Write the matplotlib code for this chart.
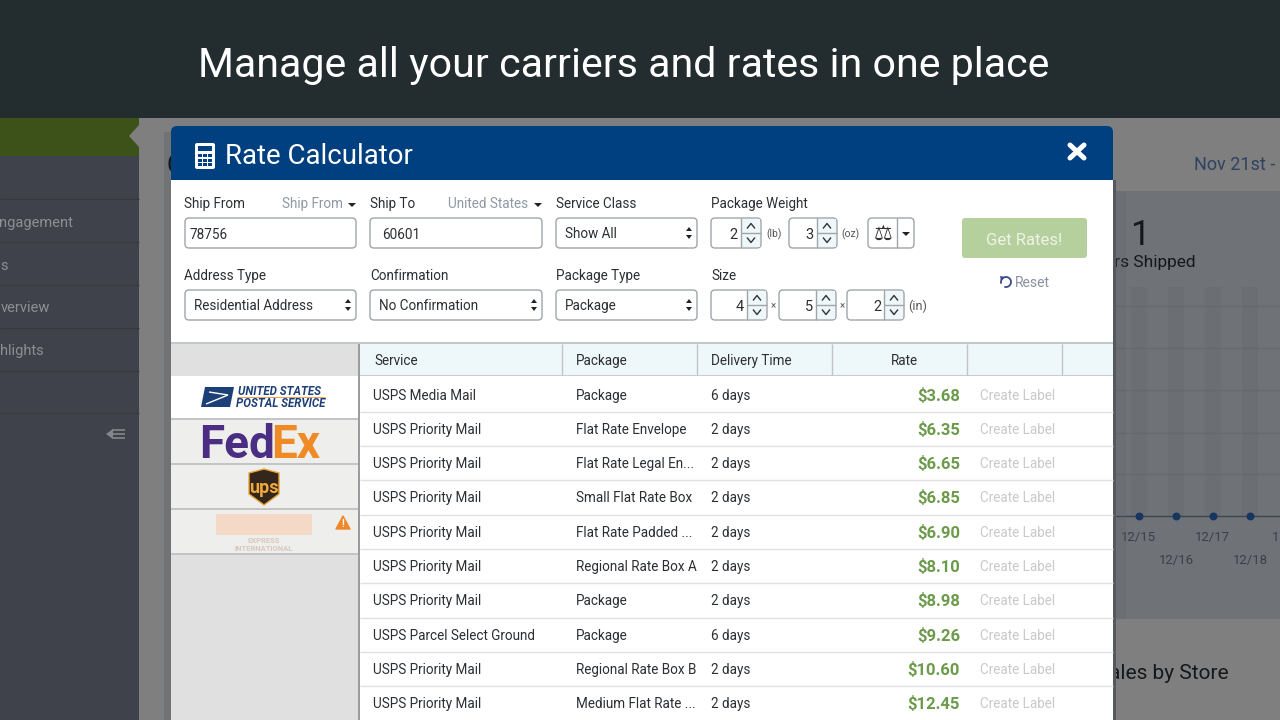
import matplotlib
matplotlib.use("Agg")
import matplotlib.pyplot as plt
from matplotlib.patches import Rectangle, FancyBboxPatch, Polygon, Arc

# -----------------------------
# Table data
# -----------------------------

services = ["USPS Media Mail", "USPS Priority Mail", "USPS Priority Mail", "USPS Priority Mail",
            "USPS Priority Mail", "USPS Priority Mail", "USPS Priority Mail",
            "USPS Parcel Select Ground", "USPS Priority Mail", "USPS Priority Mail"]
packages = ["Package", "Flat Rate Envelope", "Flat Rate Legal En...", "Small Flat Rate Box",
            "Flat Rate Padded ...", "Regional Rate Box A", "Package", "Package",
            "Regional Rate Box B", "Medium Flat Rate ..."]
delivery = ["6 days", "2 days", "2 days", "2 days", "2 days", "2 days", "2 days", "6 days",
            "2 days", "2 days"]
rates = ["$3.68", "$6.35", "$6.65", "$6.85", "$6.90", "$8.10", "$8.98", "$9.26", "$10.60", "$12.45"]
row_y = [395, 429, 463, 497, 532, 566, 600, 635, 669, 703]
header_labels = ["Service", "Package", "Delivery Time", "Rate"]

sidebar_items = ["ngagement", "s", "verview", "hlights"]
sidebar_right = [73, 8, 50, 44]
sidebar_y = [222, 265, 307, 350]
sidebar_lines = [199, 242, 285, 328, 371, 413]

chart_dates_top = ["12/15", "12/17"]
chart_dates_top_x = [1139, 1213]
chart_dates_low = ["12/16", "12/18"]
chart_dates_low_x = [1176, 1250]
chart_points_x = [1139, 1176, 1213, 1250]
chart_grid_y = [306, 348, 390, 433, 474]

FONT = "Roboto"
EDGE = "#a0a5aa"
TEXT = "#2b2f33"
BTN = "#eef7fa"
BODY = 9.75

plt.rcParams["font.family"] = [FONT, "DejaVu Sans"]
plt.rcParams["lines.solid_capstyle"] = "butt"

fig = plt.figure(figsize=(12.8, 7.2), dpi=100)
ax = fig.add_axes([0, 0, 1, 1])
ax.set_xlim(0, 1280)
ax.set_ylim(720, 0)
ax.axis("off")


def rect(x0, y0, x1, y1, color, z=1, alpha=None):
    ax.add_patch(Rectangle((x0, y0), x1 - x0, y1 - y0, fc=color, ec="none", zorder=z, alpha=alpha))


def rbox(x0, y0, x1, y1, fc="white", ec=EDGE, z=3, r=4, lw=1.0):
    ax.add_patch(FancyBboxPatch((x0, y0), x1 - x0, y1 - y0,
                                boxstyle=f"round,pad=0,rounding_size={r}",
                                fc=fc, ec=ec, lw=lw, zorder=z))


def label(x, y, s, size=BODY, color=TEXT, ha="left", weight="normal", z=5, **kw):
    # y is the middle of the capitals, so rows with descenders stay on one baseline
    ax.text(x, y + 0.49 * size, s, fontsize=size, color=color, ha=ha, va="baseline",
            weight=weight, zorder=z, **kw)


def updown(x, y):
    ax.add_patch(Polygon([(x - 3, y - 2), (x + 3, y - 2), (x, y - 6)], fc="#222", zorder=5))
    ax.add_patch(Polygon([(x - 3, y + 2), (x + 3, y + 2), (x, y + 6)], fc="#222", zorder=5))


def select(x0, x1, y0, s):
    rbox(x0, y0, x1, y0 + 30)
    label(x0 + 9, y0 + 15.5, s)
    updown(x1 - 8, y0 + 15)


def chevron(x, y, up):
    d = -2.5 if up else 2.5
    ax.plot([x - 4, x, x + 4], [y - d, y + d, y - d], color="#333", lw=1, zorder=6)


def spinner(x0, x1, y0, val):
    bx = x1 - 20
    rbox(x0, y0, x1, y0 + 30)
    rect(bx, y0 + 1, x1 - 1, y0 + 29, BTN, z=4)
    ax.plot([bx, bx], [y0, y0 + 30], color=EDGE, lw=1, zorder=5)
    ax.plot([bx, x1], [y0 + 15, y0 + 15], color=EDGE, lw=1, zorder=5)
    chevron(bx + 10, y0 + 8, True)
    chevron(bx + 10, y0 + 22, False)
    label(bx - 3, y0 + 16, val, size=10.5, ha="right")


# -----------------------------
# Background dashboard
# -----------------------------

rect(0, 0, 1280, 720, "#7f7f7f", z=0)
rect(0, 0, 1280, 118, "#232c2f")
rect(1113, 191, 1280, 619, "#6f7277")
for x in chart_points_x:
    rect(x - 8, 287, x + 8, 516, "#6b6e72", z=1)
for y in chart_grid_y:
    ax.plot([1113, 1280], [y, y], color="#67696c", lw=1, zorder=1)
rect(0, 118, 139, 720, "#3f424b")
rect(0, 118, 139, 156, "#3d5219")
ax.add_patch(Polygon([(139, 125), (129, 136), (139, 147)], fc="#7f7f7f", zorder=2))
for y in sidebar_lines:
    ax.plot([0, 139], [y, y], color="#37393f", lw=0.8, zorder=2)
for s, x, y in zip(sidebar_items, sidebar_right, sidebar_y):
    label(x, y, s, size=10.5, color="#8d8f94", ha="right")
ax.plot([112, 125], [434, 434], color="#85878b", lw=1.2, zorder=3)
ax.plot([112, 125], [430, 430], color="#85878b", lw=1.2, zorder=3)
ax.plot([112, 125], [438, 438], color="#85878b", lw=1.2, zorder=3)
ax.add_patch(Polygon([(106, 434), (113, 429), (113, 439)], fc="#85878b", zorder=3))
label(1194, 164, "Nov 21st -", size=13, color="#2f4260", z=2)
label(1140, 233, "1", size=25, color="#15181b", ha="center", z=2)
label(1196, 261, "ers Shipped", size=12.5, color="#15181b", ha="right", z=2)
label(1229, 672, "ales by Store", size=15, color="#15181b", ha="right", z=2)
ax.plot([1113, 1280], [516, 516], color="#3f4550", lw=1, zorder=2)
ax.scatter(chart_points_x, [516] * 4, s=22, color="#16355f", zorder=3)
for s, x in zip(chart_dates_top, chart_dates_top_x):
    label(x, 536, s, size=9.5, color="#3c4046", ha="center", z=2)
for s, x in zip(chart_dates_low, chart_dates_low_x):
    label(x, 559, s, size=9.5, color="#3c4046", ha="center", z=2)
label(1272, 536, "1", size=9.5, color="#3c4046", z=2)
label(1109, 559, "4", size=9.5, color="#3c4046", z=2)

label(623.5, 62, "Manage all your carriers and rates in one place", size=29.6,
      color="white", ha="center")

# -----------------------------
# Modal frame and header
# -----------------------------

rect(164, 132, 171, 720, "#6b6d70", z=2, alpha=0.7)
rect(1113, 180, 1116, 720, "#55585c", z=2)
rect(1116, 191, 1126, 619, "#5c5f63", z=2, alpha=0.2)
label(166, 164, "C", size=18, color="#15181b", z=2)
rbox(171, 126, 1113, 200, fc="#004080", ec="none", z=3, r=6)
rect(171, 180, 1113, 720, "white", z=3)

# calculator icon
rbox(195, 143, 215, 169, fc="white", ec="none", z=5, r=2)
rect(198, 146, 212, 151, "#004080", z=6)
for cy in [154, 158.5, 163]:
    for cx in [198, 203, 208]:
        rect(cx, cy, cx + 4, cy + 3, "#004080", z=6)
label(225, 154, "Rate Calculator", size=19.9, color="white")
ax.plot([1070, 1084], [145, 158], color="white", lw=3.6, zorder=6, solid_capstyle="round")
ax.plot([1070, 1084], [158, 145], color="white", lw=3.6, zorder=6, solid_capstyle="round")

# -----------------------------
# Form
# -----------------------------

label(184, 203, "Ship From")
label(282, 203, "Ship From", color="#8f98a3")
ax.add_patch(Polygon([(348, 203), (356, 203), (352, 207)], fc="#222", zorder=5))
label(370, 203, "Ship To")
label(448, 203, "United States", color="#8f98a3")
ax.add_patch(Polygon([(534, 203), (542, 203), (538, 207)], fc="#222", zorder=5))
label(556, 203, "Service Class")
label(711, 203, "Package Weight")
label(184, 275, "Address Type")
label(370, 275, "Confirmation")
label(556, 275, "Package Type")
label(711, 275, "Size")

rbox(185, 218, 356, 248)
label(190, 234, "78756")
rbox(370, 218, 542, 248)
label(382, 234, "60601")
select(556, 697, 218, "Show All")
select(185, 356, 290, "Residential Address")
select(370, 542, 290, "No Confirmation")
select(556, 697, 290, "Package")

spinner(711, 761, 218, "2")
label(766, 234, "(lb)", size=7.5, color="#555")
spinner(789, 837, 218, "3")
label(841, 234, "(oz)", size=7.5, color="#555")
rbox(868, 218, 914, 248)
ax.plot([897, 897], [218, 248], color=EDGE, lw=1, zorder=5)
label(883, 232, "\u2696", size=15, color="#333", ha="center", family="DejaVu Sans")
ax.add_patch(Polygon([(902, 232), (910, 232), (906, 236)], fc="#222", zorder=5))

spinner(711, 767, 290, "4")
label(773, 306, "\u00d7", size=7, color="#555", ha="center")
spinner(779, 836, 290, "5")
label(842, 306, "\u00d7", size=7, color="#555", ha="center")
spinner(847, 904, 290, "2")
label(908, 306, "(in)", size=9, color="#555")

rbox(962, 218, 1087, 258, fc="#b5d09d", ec="none", r=3)
label(1024.5, 239, "Get Rates!", size=12, color="#eef3e6", ha="center")
ax.add_patch(Arc((1006, 282), 10, 10, theta1=-200, theta2=110, color="#3d4a8c", lw=1.3, zorder=5))
ax.add_patch(Polygon([(1000, 276), (1005, 277), (1001, 281)], fc="#3d4a8c", zorder=5))
label(1015, 282, "Reset", size=10, color="#8a8fa0")

# -----------------------------
# Rates table
# -----------------------------

rect(171, 342, 1113, 344, "#c4c7c9", z=4)
rect(171, 344, 358, 720, "#e0e0e0", z=4)
rect(360, 344, 1113, 375, BTN, z=4)
rect(358, 344, 360, 720, "#9a9c9e", z=5)
rect(360, 375, 1113, 376, "#c9cccd", z=5)
for x in [562, 697, 832, 967, 1062]:
    ax.plot([x, x], [344, 375], color="#c0c4c6", lw=1, zorder=5)
label(374, 360, header_labels[0])
label(576, 360, header_labels[1])
label(711, 360, header_labels[2])
label(904, 360, header_labels[3], ha="center")

for i, y in enumerate(row_y):
    label(373, y, services[i])
    label(576, y, packages[i])
    label(711, y, delivery[i])
    label(960, y, rates[i], size=12, color="#6c9a4b", ha="right", weight="bold")
    label(980, y, "Create Label", color="#c9c9c9")
    if i < len(row_y) - 1:
        sep = (y + row_y[i + 1]) / 2
        ax.plot([360, 1113], [sep, sep], color="#e0e1e1", lw=1, zorder=4)

# carrier column
rect(171, 376, 358, 418, "white", z=5)
rect(171, 420, 358, 553, "#eeeeec", z=5)
for y0 in [418, 463, 508, 553]:
    rect(171, y0, 358, y0 + 2, "#c2c4c5", z=5)

# USPS logo
ax.add_patch(Polygon([(205, 387), (234, 387), (230, 407), (201, 407)], fc="#1d3f78", zorder=6))
ax.plot([209, 228], [392, 395], color="white", lw=1, zorder=7)
ax.plot([206, 228], [404, 395], color="white", lw=1, zorder=7)
label(238, 391, "UNITED STATES", size=8.3, color="#1d3f78", weight="bold", style="italic", z=6)
label(236, 403, "POSTAL SERVICE", size=8.3, color="#1d3f78", weight="bold", style="italic", z=6)
ax.plot([237, 325], [397, 397], color="#f0a050", lw=0.7, zorder=6)

# FedEx logo
label(199, 442, "Fed", size=33, color="#4b2e83", weight="bold", z=6)
label(271, 442, "Ex", size=33, color="#f08a24", weight="bold", z=6)

# UPS logo
ax.add_patch(Polygon([(249, 473), (264, 469), (279, 473), (279, 494), (264, 505), (249, 494)],
                     fc="#33261a", ec="#e8a33c", lw=1, zorder=6))
label(264, 487, "ups", size=13, color="#f0a93e", ha="center", weight="bold", z=7)

# faded logo and warning
rect(216, 514, 312, 535, "#f3d9c6", z=6)
label(264, 540, "EXPRESS", size=5.5, color="#d9c8bc", ha="center", weight="bold", z=6)
label(264, 548, "INTERNATIONAL", size=5.5, color="#d9c8bc", ha="center", weight="bold", z=6)
ax.add_patch(Polygon([(336, 529), (350, 529), (343, 516)], fc="#f0882a", ec="#f0882a",
                     joinstyle="round", zorder=6))
label(343, 524, "!", size=7, color="white", ha="center", weight="bold", z=7)

fig.savefig("out.png", dpi=100)
